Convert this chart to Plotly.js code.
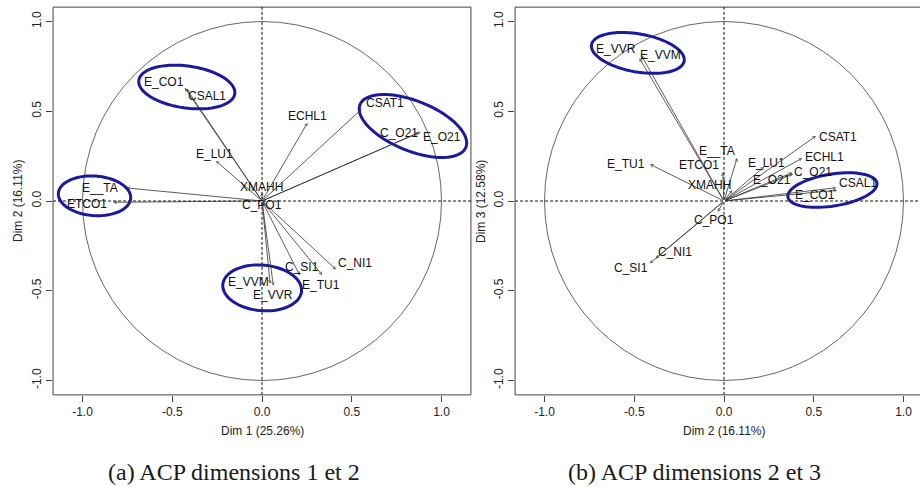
<!DOCTYPE html>
<html>
<head>
<meta charset="utf-8">
<script src="https://cdn.plot.ly/plotly-3.0.1.min.js"></script>
<style>html,body{margin:0;padding:0;background:#fff;}#chart{width:920px;height:487px;}</style>
</head>
<body>
<div id="chart"></div>
<script>
// ---- data ----
const variables = ["E_CO1","CSAL1","E_LU1","E__TA","ETCO1","XMAHH","C_PO1","ECHL1","CSAT1","C_O21","E_O21","C_NI1","C_SI1","E_TU1","E_VVM","E_VVR"];
const dim1 = [-0.43,-0.42,-0.256,-0.755,-0.828,0.0,0.005,0.253,0.555,0.872,0.884,0.412,0.21,0.335,0.063,0.045];
const dim2 = [0.63,0.625,0.223,0.073,-0.007,0.046,-0.035,0.435,0.512,0.38,0.385,-0.381,-0.413,-0.412,-0.471,-0.46];
const dim3 = [0.06,0.074,0.19,0.24,0.16,0.06,-0.06,0.238,0.362,0.158,0.15,-0.32,-0.347,0.204,0.795,0.81];
const tickVals = [-1,-0.5,0,0.5,1];
const tickText = ["-1.0","-0.5","0.0","0.5","1.0"];
const axisTitles = {p1x:"Dim 1 (25.26%)", p1y:"Dim 2 (16.11%)", p2x:"Dim 2 (16.11%)", p2y:"Dim 3 (12.58%)"};
const captions = ["(a) ACP dimensions 1 et 2","(b) ACP dimensions 2 et 3"];

// ---- layout / style ----
const W = 920, H = 487, S = 179.5; // px per unit
const c1 = {x:262, y:201}, c2 = {x:724, y:201};
// label offsets in px (dx right, dy down)
const lab1 = [[-21,-6],[20,7],[-2,-7],[-26,0],[-26,2],[-1,-6],[-1,-2],[0,-7],[23,-6],[-20,0],[21,5],[19,-6],[2,-8],[-1,10],[-25,-4],[3,11]];
const lab2 = [[-22,5],[22,-5],[2,-4],[-20,-7],[-24,-7],[-23,-5],[-4,8],[22,-1],[22,1],[21,-1],[-21,6],[19,-6],[-19,5],[-24,0],[21,-3],[-25,-7]];
// highlight ellipses: [cx, cy, a, b, angle(deg, clockwise on screen)]
const ell1 = [[-0.419,0.635,0.270,0.117,8],[0.841,0.418,0.318,0.139,22],[-0.933,0.029,0.202,0.110,4],[0.001,-0.484,0.220,0.127,5]];
const ell2 = [[-0.480,0.825,0.262,0.106,10],[0.604,0.061,0.251,0.089,-9]];

const xr = 1.164, yr = 1.08;
const x1d = [(c1.x - xr*S)/W, (c1.x + xr*S)/W];
const yd = [1 - (c1.y + yr*S)/H, 1 - (c1.y - yr*S)/H];
const x2left = c2.x - xr*S;
const x2d = [x2left/W, 1];
const x2max = (W - c2.x)/S;

const tickFont = {family:"Liberation Sans, Arial, sans-serif", size:12, color:"#222"};
function axisBase(extra){
  return Object.assign({
    tickmode:"array", tickvals:tickVals, ticktext:tickText,
    ticks:"outside", ticklen:6, tickcolor:"#444", tickwidth:1,
    showgrid:false, zeroline:false, showline:false, ticklabeloverflow:"allow",
    tickfont:tickFont, fixedrange:true
  }, extra);
}

function ellipsePath(e){
  const [cx,cy,a,b,ang] = e;
  const t = ang*Math.PI/180;
  const u = [Math.cos(t), -Math.sin(t)], v = [Math.sin(t), Math.cos(t)];
  let p = "";
  for(let i=0;i<=72;i++){
    const f = i/72*2*Math.PI;
    const x = cx + a*Math.cos(f)*u[0] + b*Math.sin(f)*v[0];
    const y = cy + a*Math.cos(f)*u[1] + b*Math.sin(f)*v[1];
    p += (i===0?"M":"L") + x.toFixed(4) + "," + y.toFixed(4);
  }
  return p + "Z";
}

const shapes = [];
const annotations = [];
function panel(xs, ys, xa, ya, labs, ells, full){
  if(full){
    shapes.push({type:"rect", xref:xa+" domain", yref:ya+" domain", x0:0,x1:1,y0:0,y1:1, line:{color:"#444",width:1}});
  } else {
    shapes.push({type:"line", xref:xa+" domain", yref:ya+" domain", x0:0,x1:0,y0:0,y1:1, line:{color:"#444",width:1}});
    shapes.push({type:"line", xref:xa+" domain", yref:ya+" domain", x0:0,x1:1.01,y0:1,y1:1, line:{color:"#444",width:1}});
    shapes.push({type:"line", xref:xa+" domain", yref:ya+" domain", x0:0,x1:1.01,y0:0,y1:0, line:{color:"#444",width:1}});
  }
  shapes.push({type:"circle", xref:xa, yref:ya, x0:-1,x1:1,y0:-1,y1:1, line:{color:"#666",width:1}});
  shapes.push({type:"line", xref:xa+" domain", yref:ya, x0:0,x1:1,y0:0,y1:0, line:{color:"#111",width:1,dash:"3px,2px"}});
  shapes.push({type:"line", xref:xa, yref:ya+" domain", x0:0,x1:0,y0:0,y1:1, line:{color:"#111",width:1,dash:"3px,2px"}});
  ells.forEach(e=>shapes.push({type:"path", xref:xa, yref:ya, path:ellipsePath(e), line:{color:"#1a1a9e",width:3}}));
  variables.forEach((name,i)=>{
    annotations.push({x:xs[i], y:ys[i], xref:xa, yref:ya, ax:0, ay:0, axref:xa, ayref:ya,
      text:"", showarrow:true, arrowhead:5, arrowsize:0.7, arrowwidth:0.8, arrowcolor:"#333", standoff:0, startstandoff:0});
    annotations.push({x:xs[i], y:ys[i], xref:xa, yref:ya, text:name, showarrow:false,
      xshift:labs[i][0], yshift:-labs[i][1], xanchor:"center", yanchor:"middle",
      font:{family:"Liberation Sans, Arial, sans-serif", size:12, color:"#111"}});
  });
}
panel(dim1, dim2, "x", "y", lab1, ell1, true);
panel(dim2, dim3, "x2", "y2", lab2, ell2, false);

function paperText(text, px, py, size, family, angle, color){
  annotations.push({xref:"paper", yref:"paper", x:px/W, y:1-py/H, text:text, showarrow:false,
    xanchor:"center", yanchor:"middle", textangle:angle||0,
    font:{family:family, size:size, color:color||"#222"}});
}
const sans = "Liberation Sans, Arial, sans-serif";
paperText(axisTitles.p1x, 262, 431, 12, sans);
paperText(axisTitles.p1y, 18, 201, 12, sans, -90);
paperText(axisTitles.p2x, 724, 431, 12, sans);
paperText(axisTitles.p2y, 481, 202, 12, sans, -90);
const serif = "Liberation Serif, 'DejaVu Serif', serif";
paperText(captions[0], 234, 472, 24, serif, 0, "#1a1a1a");
paperText(captions[1], 694, 472, 24, serif, 0, "#1a1a1a");

const layout = {
  width:W, height:H, margin:{l:0,r:0,t:0,b:0},
  paper_bgcolor:"#fff", plot_bgcolor:"#fff", showlegend:false,
  xaxis: axisBase({domain:x1d, range:[-xr,xr], anchor:"y"}),
  yaxis: axisBase({domain:yd, range:[-yr,yr], anchor:"x", tickangle:-90}),
  xaxis2: axisBase({domain:x2d, range:[-xr,x2max], anchor:"y2"}),
  yaxis2: axisBase({domain:yd, range:[-yr,yr], anchor:"x2", tickangle:-90}),
  shapes:shapes, annotations:annotations
};
const traces = [
  {type:"scatter", mode:"markers", x:dim1, y:dim2, xaxis:"x", yaxis:"y", marker:{size:1,opacity:0}, hoverinfo:"skip"},
  {type:"scatter", mode:"markers", x:dim2, y:dim3, xaxis:"x2", yaxis:"y2", marker:{size:1,opacity:0}, hoverinfo:"skip"}
];
Plotly.newPlot("chart", traces, layout, {staticPlot:true, displayModeBar:false});
</script>
</body>
</html>
